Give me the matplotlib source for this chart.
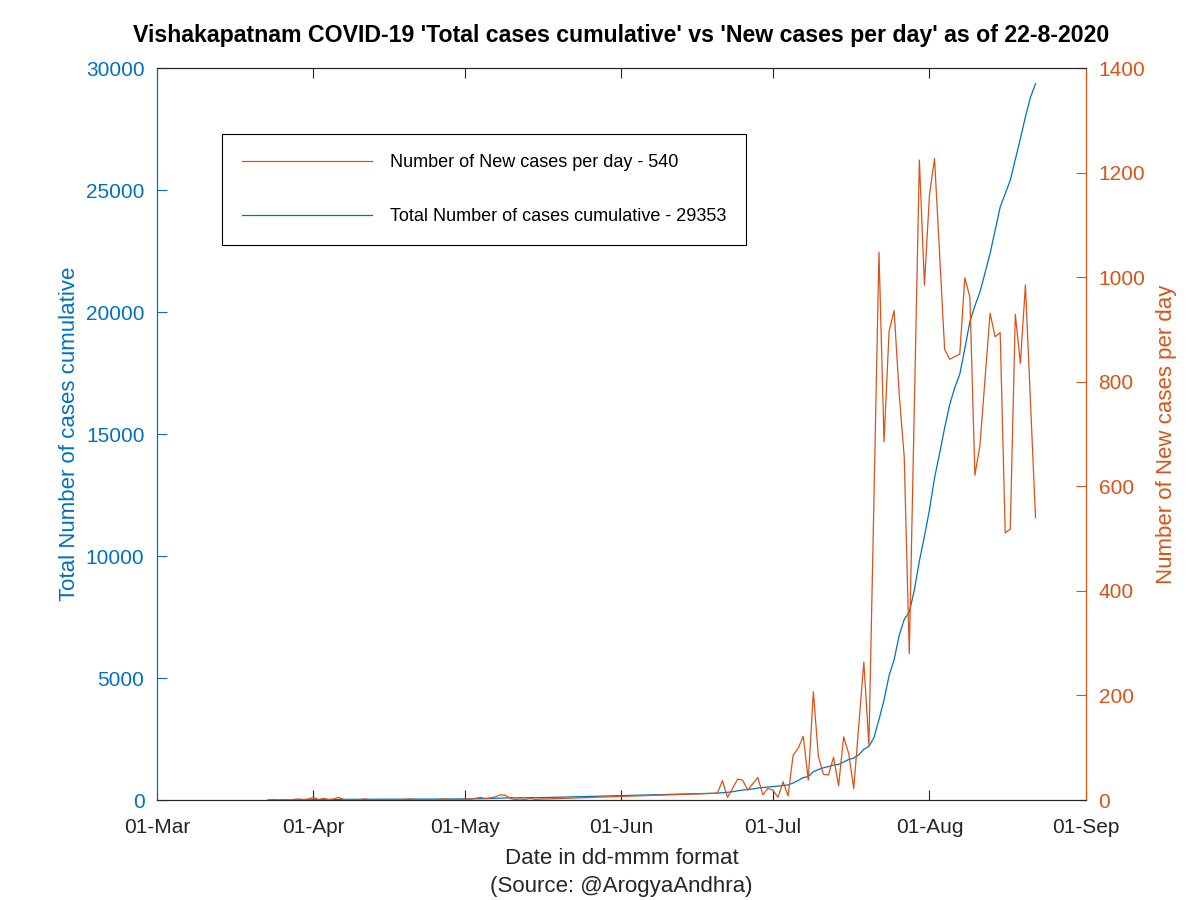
import numpy as np
import pandas as pd
import matplotlib
matplotlib.use('Agg')
import matplotlib.pyplot as plt
import matplotlib.dates as mdates

plt.rcParams['font.family'] = ['Liberation Sans', 'DejaVu Sans']

# Data (Vishakapatnam district)
early_dates = pd.date_range('2020-03-23', '2020-05-17')
late_dates = pd.date_range('2020-06-20', '2020-08-22')
dates = early_dates.append(late_dates)

early_new = [0, 1, 0, 1, 0, 1, 2, 1, 2,
             5, 1, 3, 1, 2, 5, 1, 0, 1, 0, 2, 1, 0, 1, 0, 1, 0, 0, 1, 2,
             1, 0, 1, 0, 0, 1, 2, 1, 0, 1,
             2, 1, 3, 5, 3, 4, 6, 10, 9, 3, 1, 2, 1, 3, 1, 2, 2]
late_new = [13, 37, 5, 22, 40, 38, 19, 31, 43, 10, 22,
            19, 5, 35, 8, 86, 99, 122, 38, 207, 83, 49, 48, 82, 27, 121,
            89, 22, 143, 264, 105, 575, 1048, 685, 897, 936, 777, 656, 280,
            752, 1224, 985,
            1157, 1227, 1045, 862, 843, 848, 853, 999, 962, 621, 679, 805,
            931, 886, 894, 511, 518, 929, 835, 985, 762, 540]
new_cases = early_new + late_new

early_total = [1, 2, 2, 3, 3, 4, 6, 7, 9,
               14, 15, 18, 19, 21, 26, 27, 27, 28, 28, 30, 31, 31, 32, 32,
               33, 33, 33, 34, 36, 37, 37, 38, 38, 38, 39, 41, 42, 42, 43,
               45, 46, 49, 54, 57, 61, 67, 77, 86, 89, 90, 92, 93, 96, 97,
               99, 101]
late_total = [280, 300, 315, 340, 375, 410, 430, 455, 490, 510, 530,
              550, 570, 595, 615, 700, 800, 920, 960, 1160, 1250, 1320, 1370,
              1430, 1460, 1560, 1660, 1720, 1850, 2080, 2200, 2550, 3300,
              4100, 5100, 5750, 6750, 7400, 7700, 8600, 9800, 10800,
              11900, 13200, 14200, 15250, 16200, 16900, 17450, 18500, 19600,
              20250, 20830, 21600, 22400, 23350, 24300, 24850, 25400, 26250,
              27100, 28000, 28800, 29353]
total_cases = early_total + late_total

blue = '#0072BD'
orange = '#D95319'
dark = '#262626'

fig = plt.figure(figsize=(12, 9), dpi=100)
ax = fig.add_axes([0.1308, 0.1111, 0.7742, 0.8133])
ax2 = ax.twinx()

l1, = ax.plot(dates, total_cases, color=blue, lw=0.9,
              label='Total Number of cases cumulative - %d' % total_cases[-1])
l2, = ax2.plot(dates, new_cases, color=orange, lw=0.9,
               label='Number of New cases per day - %d' % new_cases[-1])

ax.set_xlim(pd.Timestamp('2020-03-01'), pd.Timestamp('2020-09-01'))
ax.set_ylim(0, 30000)
ax2.set_ylim(0, 1400)
ax.set_yticks(np.arange(0, 30001, 5000))
ax2.set_yticks(np.arange(0, 1401, 200))
ax.xaxis.set_major_locator(mdates.MonthLocator())
ax.xaxis.set_major_formatter(mdates.DateFormatter('%d-%b'))

for a in (ax, ax2):
    a.spines['top'].set_color(dark)
    a.spines['bottom'].set_color(dark)
    a.spines['left'].set_color(blue)
    a.spines['right'].set_color(orange)
    for s in a.spines.values():
        s.set_linewidth(0.8)

ax.tick_params(axis='x', direction='in', length=7, width=0.8, colors=dark,
               labelsize=15, pad=13, top=True)
ax.tick_params(axis='y', direction='in', length=7, width=0.8, colors=blue,
               labelsize=15, pad=9)
ax2.tick_params(axis='y', direction='in', length=7, width=0.8, colors=orange,
                labelsize=15, pad=9)

ax.set_ylabel('Total Number of cases cumulative', color=blue, fontsize=16,
              labelpad=4)
ax2.set_ylabel('Number of New cases per day', color=orange, fontsize=16,
               labelpad=8)
ax.set_xlabel('Date in dd-mmm format\n(Source: @ArogyaAndhra)', color=dark,
              fontsize=16, labelpad=8, linespacing=1.45)
ax.set_title("Vishakapatnam COVID-19 'Total cases cumulative' vs "
             "'New cases per day' as of 22-8-2020",
             fontsize=16.7, fontweight='bold', pad=19)

leg = ax2.legend(handles=[l2, l1], loc='upper left',
                 bbox_to_anchor=(0.070, 0.9098), borderaxespad=0,
                 fontsize=13, handlelength=7.2, handletextpad=1.0,
                 labelspacing=2.05, borderpad=1.1, fancybox=False,
                 framealpha=1)
leg.get_frame().set_edgecolor('black')
leg.get_frame().set_linewidth(0.8)

fig.savefig('out.png', dpi=100)
